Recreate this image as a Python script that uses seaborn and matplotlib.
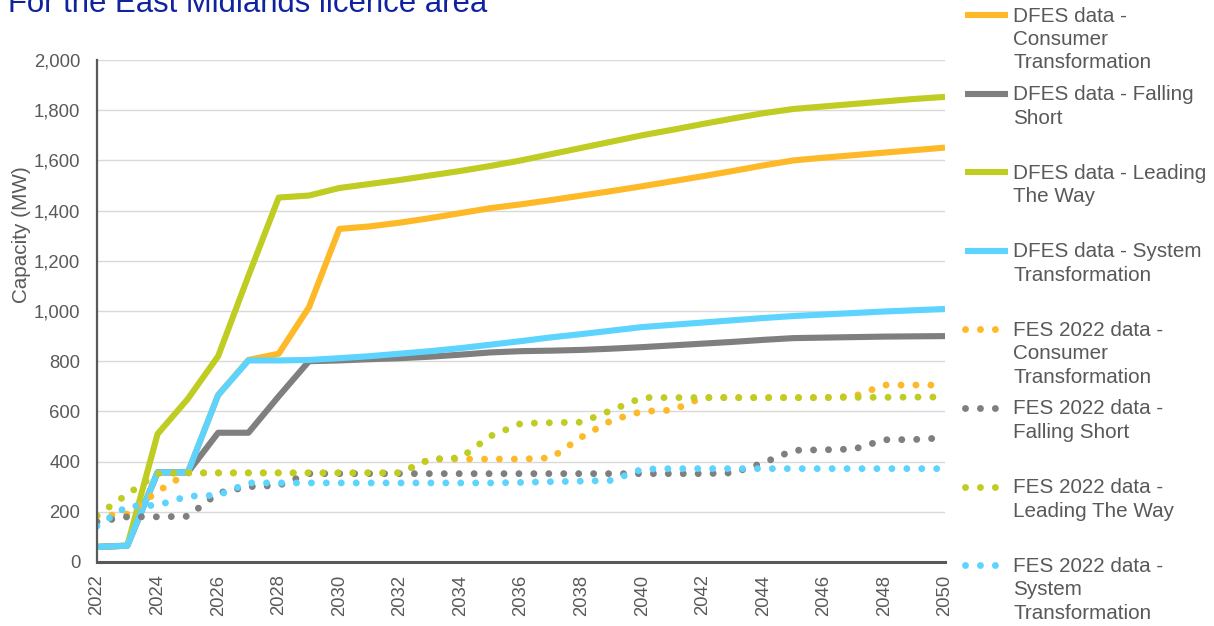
import matplotlib
matplotlib.use("Agg")
import matplotlib.pyplot as plt
from matplotlib.lines import Line2D
from matplotlib.ticker import FuncFormatter
import seaborn as sns

# Capacity (MW), East Midlands licence area
years = list(range(2022, 2051))

dfes_ct = [60, 65, 357, 357, 665, 805, 830, 1015, 1327, 1337, 1352, 1370, 1390, 1410, 1425,
           1442, 1460, 1478, 1497, 1517, 1537, 1558, 1580, 1600, 1611, 1621, 1631, 1641, 1651]
dfes_fs = [60, 65, 357, 357, 515, 515, 660, 800, 803, 808, 812, 818, 826, 835, 840,
           842, 845, 850, 856, 863, 870, 877, 885, 892, 894, 896, 898, 899, 900]
dfes_ltw = [60, 65, 510, 650, 820, 1140, 1452, 1460, 1490, 1506, 1522, 1540, 1558, 1578, 1600,
            1625, 1650, 1675, 1700, 1722, 1745, 1767, 1788, 1805, 1815, 1825, 1835, 1845, 1853]
dfes_st = [60, 65, 357, 357, 665, 803, 803, 805, 812, 820, 830, 840, 852, 866, 880,
           895, 908, 922, 936, 945, 954, 963, 972, 980, 986, 992, 998, 1003, 1008]

fes_ct = [183, 191, 281, 355, 355, 355, 355, 355, 355, 355, 355, 410, 410, 410, 410,
          415, 498, 565, 600, 605, 655, 655, 655, 655, 655, 660, 705, 705, 705]
fes_fs = [160, 180, 180, 182, 275, 300, 305, 352, 352, 352, 352, 352, 352, 352, 352,
          352, 352, 352, 352, 352, 352, 355, 395, 445, 447, 450, 487, 488, 495]
fes_ltw = [185, 270, 352, 355, 355, 355, 355, 355, 355, 355, 355, 410, 415, 502, 552,
           555, 557, 605, 655, 655, 655, 655, 655, 655, 655, 656, 656, 657, 657]
fes_st = [143, 222, 226, 262, 266, 315, 315, 315, 315, 315, 315, 315, 315, 315, 317,
          320, 322, 325, 370, 372, 372, 372, 372, 372, 372, 372, 372, 372, 372]

labels = [
    "DFES data -\nConsumer\nTransformation",
    "DFES data - Falling\nShort",
    "DFES data - Leading\nThe Way",
    "DFES data - System\nTransformation",
    "FES 2022 data -\nConsumer\nTransformation",
    "FES 2022 data -\nFalling Short",
    "FES 2022 data -\nLeading The Way",
    "FES 2022 data -\nSystem\nTransformation",
]

orange = "#FDB927"
grey = "#7F7F7F"
green = "#BFCC22"
blue = "#5CD4FE"
text_col = "#595959"

series = [
    (dfes_ct, orange, False),
    (dfes_fs, grey, False),
    (dfes_ltw, green, False),
    (dfes_st, blue, False),
    (fes_ct, orange, True),
    (fes_fs, grey, True),
    (fes_ltw, green, True),
    (fes_st, blue, True),
]

sns.set_theme(style="white")
plt.rcParams["font.family"] = ["Liberation Sans", "DejaVu Sans"]

W, H = 1214, 626
fig = plt.figure(figsize=(W / 100, H / 100), dpi=100)
ax = fig.add_axes([97 / W, 1 - 562 / H, (945 - 97) / W, (562 - 60) / H])

solid_lw = 4.4
dot_lw = 5.0
dot_style = (0, (0.001, 2.15))

for i, (vals, col, dotted) in enumerate(series):
    if dotted:
        sns.lineplot(x=years, y=vals, ax=ax, color=col, lw=dot_lw, linestyle=dot_style,
                     dash_capstyle="round", legend=False, zorder=3 + i)
    else:
        sns.lineplot(x=years, y=vals, ax=ax, color=col, lw=solid_lw,
                     solid_joinstyle="round", solid_capstyle="butt", legend=False, zorder=3 + i)

ax.set_xlim(2022, 2050)
ax.set_ylim(0, 2000)
ax.set_xticks(list(range(2022, 2051, 2)))
ax.set_yticks(list(range(0, 2001, 200)))
ax.yaxis.set_major_formatter(FuncFormatter(lambda v, p: f"{v:,.0f}"))
ax.tick_params(axis="x", labelsize=13.3, colors=text_col, length=0, pad=9, labelrotation=90)
ax.tick_params(axis="y", labelsize=13.3, colors=text_col, length=0, pad=12)
ax.set_xlabel("")
ax.set_ylabel("")
ax.yaxis.grid(True, color="#D9D9D9", lw=1.0)
ax.xaxis.grid(False)
ax.set_axisbelow(True)
for s in ["top", "right"]:
    ax.spines[s].set_visible(False)
ax.spines["left"].set_color(text_col)
ax.spines["left"].set_linewidth(1.6)
ax.spines["bottom"].set_color(text_col)
ax.spines["bottom"].set_linewidth(2.2)
ax.spines["left"].set_zorder(20)
ax.spines["bottom"].set_zorder(20)

fig.text(22 / W, 1 - 235 / H, "Capacity (MW)", rotation=90, ha="center", va="center",
         fontsize=14.9, color=text_col)

fig.text(8 / W, 1 - 12 / H, "For the East Midlands licence area", ha="left", va="baseline",
         fontsize=22.4, color="#10239E")

# legend on the right, one entry every 78.6 px
for i, (vals, col, dotted) in enumerate(series):
    yc = 15 + 78.6 * i
    if dotted:
        h = Line2D([965 / W, 997 / W], [1 - yc / H, 1 - yc / H], transform=fig.transFigure,
                   color=col, lw=dot_lw, linestyle=dot_style, dash_capstyle="round")
    else:
        h = Line2D([965 / W, 1008 / W], [1 - yc / H, 1 - yc / H], transform=fig.transFigure,
                   color=col, lw=solid_lw, solid_capstyle="butt")
    fig.add_artist(h)
    fig.text(1013 / W, 1 - (yc - 8.5) / H, labels[i], ha="left", va="top",
             fontsize=14.9, color=text_col, linespacing=1.3)

fig.savefig("out.png", dpi=100)
